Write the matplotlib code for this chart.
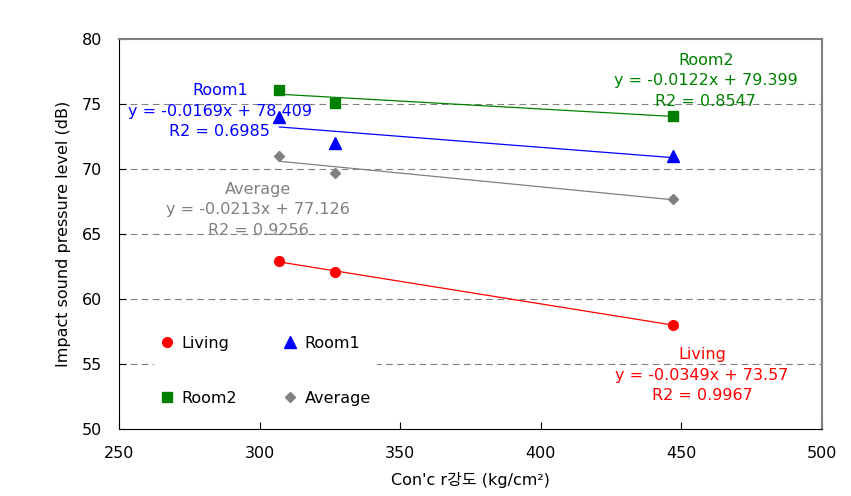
import numpy as np
import matplotlib.pyplot as plt

plt.rcParams['font.family'] = ['DejaVu Sans', 'Noto Sans CJK KR']

# data
strength = [307, 327, 447]
living = [62.9, 62.1, 58.0]
room1 = [74.0, 72.0, 71.0]
room2 = [76.1, 75.1, 74.1]
average = [71.0, 69.7, 67.7]

series_names = ['Living', 'Room1', 'Room2', 'Average']
series_vals = [living, room1, room2, average]
colors = ['#FF0000', '#0000FF', '#008000', '#808080']
markers = ['o', '^', 's', 'D']
msizes = [7, 8, 7, 5.5]

# trendline labels as printed on the chart
eq_text = [
    'Living\ny = -0.0349x + 73.57\nR2 = 0.9967',
    'Room1\ny = -0.0169x + 78.409\nR2 = 0.6985',
    'Room2\ny = -0.0122x + 79.399\nR2 = 0.8547',
    'Average\ny = -0.0213x + 77.126\nR2 = 0.9256',
]
eq_pos = [(457.3, 54.15), (285.9, 74.46), (458.7, 76.77), (299.4, 66.85)]

fs = 11.5

fig = plt.figure(figsize=(8.51, 4.96), dpi=100)
ax = fig.add_axes([0.1398, 0.1351, 0.9659 - 0.1398, 0.9214 - 0.1351])

x = np.array(strength)
handles = {}
for name, vals, c, m, ms in zip(series_names, series_vals, colors, markers, msizes):
    h, = ax.plot(x, vals, linestyle='none', marker=m, color=c, markersize=ms, label=name, zorder=3)
    handles[name] = h
    k, b = np.polyfit(x, vals, 1)
    xx = np.array([x.min(), x.max()])
    ax.plot(xx, k * xx + b, color=c, lw=0.9, zorder=2)

for txt, (px, py), c in zip(eq_text, eq_pos, colors):
    ax.text(px, py, txt, color=c, ha='center', va='center', fontsize=fs, linespacing=1.45, zorder=4)

ax.set_xlim(250, 500)
ax.set_ylim(50, 80)
ax.set_xticks(range(250, 501, 50))
ax.set_yticks(range(50, 81, 5))
ax.tick_params(direction='in', labelsize=fs, length=5)
ax.tick_params(axis='x', pad=12)
ax.tick_params(axis='y', pad=12)
for y in range(55, 80, 5):
    ax.axhline(y, color='#808080', lw=0.8, ls=(0, (6, 4)), zorder=1)

ax.spines['top'].set_color('#808080')
ax.spines['right'].set_color('#808080')
ax.spines['top'].set_linewidth(1.5)
ax.spines['right'].set_linewidth(1.5)
ax.spines['left'].set_color('#000000')
ax.spines['bottom'].set_color('#000000')

ax.set_xlabel('Con\'c r강도 (kg/cm²)', fontsize=fs, labelpad=8)
ax.set_ylabel('Impact sound pressure level (dB)', fontsize=fs, labelpad=8)

# legend fills column-wise: order so rows read Living/Room1, Room2/Average
order = ['Living', 'Room2', 'Room1', 'Average']
leg = ax.legend(handles=[handles[n] for n in order], ncol=2, loc='upper left',
                bbox_to_anchor=(0.05, 0.255), frameon=True, fontsize=fs,
                handlelength=0.8, handletextpad=0.5, labelspacing=2.5,
                columnspacing=2.95, borderaxespad=0)
leg.get_frame().set_edgecolor('none')
leg.get_frame().set_facecolor('white')
leg.get_frame().set_alpha(1)
leg.set_zorder(5)

fig.savefig('out.png', dpi=100)
